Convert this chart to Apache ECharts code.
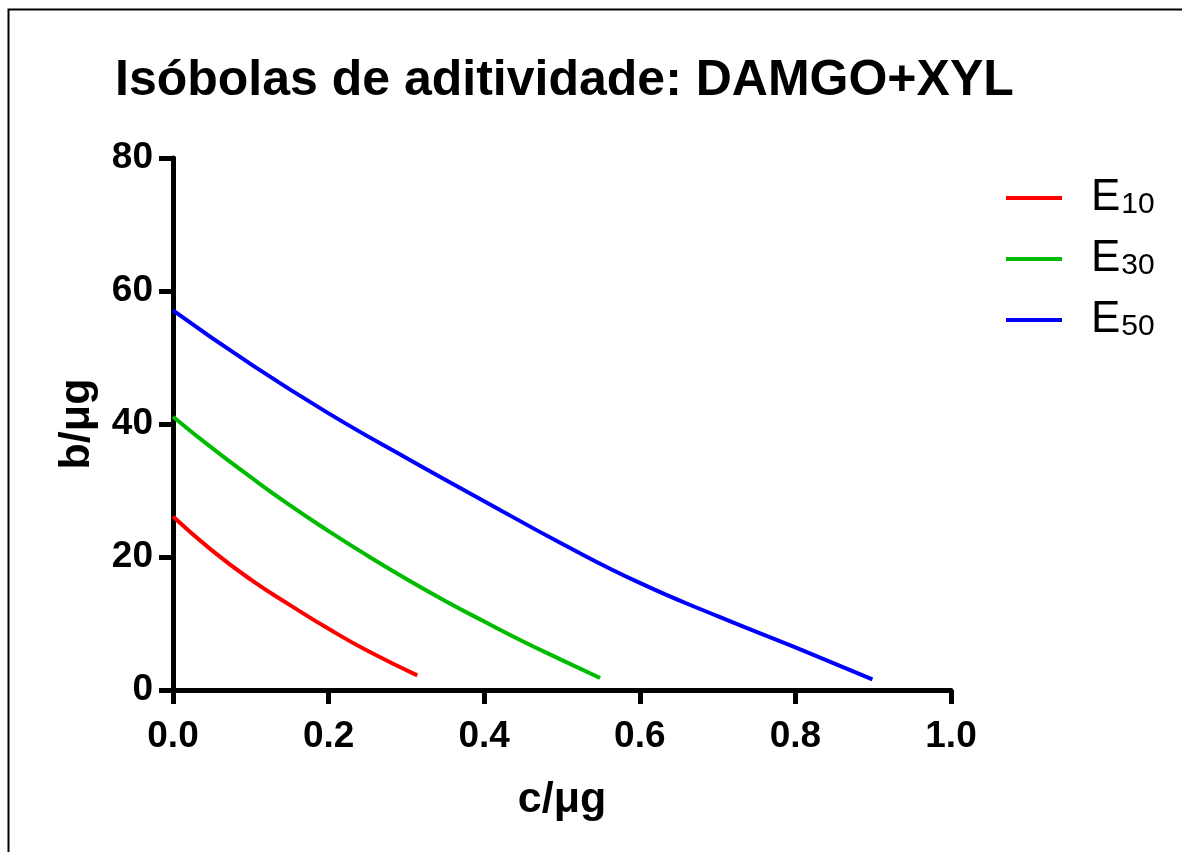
<!DOCTYPE html>
<html>
<head>
<meta charset="utf-8">
<script src="https://cdn.jsdelivr.net/npm/echarts@6/dist/echarts.min.js"></script>
<style>html,body{margin:0;padding:0;background:#fff}#c{width:1182px;height:852px}</style>
</head>
<body>
<div id="c"></div>
<script>
const titleText = 'Isóbolas de aditividade: DAMGO+XYL';
const xName = 'c/μg';
const yName = 'b/μg';
const seriesNames = ['E10', 'E30', 'E50'];
const seriesSubs = ['10', '30', '50'];
const seriesColors = ['#ff0000', '#00bb00', '#0000ff'];

const e10X = [0, 0.05, 0.10, 0.15, 0.20, 0.25, 0.314];
const e10Y = [26.1, 21.0, 16.6, 12.8, 9.2, 5.9, 2.2];
const e30X = [0, 0.05, 0.10, 0.15, 0.20, 0.25, 0.30, 0.35, 0.40, 0.45, 0.50, 0.549];
const e30Y = [41.1, 36.4, 32.0, 27.8, 23.9, 20.2, 16.7, 13.4, 10.3, 7.3, 4.5, 1.8];
const e50X = [0, 0.10, 0.20, 0.30, 0.40, 0.50, 0.60, 0.70, 0.80, 0.899];
const e50Y = [57.1, 49.0, 41.6, 34.9, 28.4, 22.0, 16.1, 11.1, 6.4, 1.6];

const xTicks = [0, 0.2, 0.4, 0.6, 0.8, 1.0];
const yTicks = [0, 20, 40, 60, 80];

const seriesX = [e10X, e30X, e50X];
const seriesY = [e10Y, e30Y, e50Y];

const FONT = '"Liberation Sans", Arial, Helvetica, sans-serif';

const chart = echarts.init(document.getElementById('c'), null, {renderer: 'canvas'});

const axisCommon = {
  axisLine: {show: true, onZero: false, lineStyle: {color: '#000', width: 5}},
  axisTick: {show: true, inside: false, length: 14, lineStyle: {color: '#000', width: 5}},
  splitLine: {show: false},
  nameLocation: 'middle',
  nameTextStyle: {fontFamily: FONT, fontWeight: 'bold', fontSize: 43, color: '#000'}
};

chart.setOption({
  backgroundColor: '#fff',
  animation: false,
  title: {
    text: titleText, left: 115, top: 56, padding: 0,
    textStyle: {fontFamily: FONT, fontWeight: 'bold', fontSize: 50, color: '#000'}
  },
  grid: {left: 173, right: 231, top: 158, bottom: 162, containLabel: false},
  xAxis: Object.assign({}, axisCommon, {
    type: 'value', min: xTicks[0], max: xTicks[xTicks.length - 1], interval: 0.2,
    name: xName, nameGap: 89,
    axisLabel: {margin: 28, fontFamily: FONT, fontWeight: 'bold', fontSize: 37, color: '#000',
      formatter: v => v.toFixed(1)}
  }),
  yAxis: Object.assign({}, axisCommon, {
    type: 'value', min: yTicks[0], max: yTicks[yTicks.length - 1], interval: 20,
    name: yName, nameGap: 74,
    axisLabel: {margin: 20, fontFamily: FONT, fontWeight: 'bold', fontSize: 37, color: '#000'}
  }),
  legend: {
    orient: 'vertical', left: 1006, top: 168, padding: 0, itemGap: 9,
    itemWidth: 56, itemHeight: 4, icon: 'rect',
    data: seriesNames,
    formatter: name => '{e|E}{s|' + seriesSubs[seriesNames.indexOf(name)] + '}',
    textStyle: {
      fontFamily: FONT, color: '#000',
      rich: {
        e: {fontFamily: FONT, fontSize: 44, lineHeight: 44, verticalAlign: 'top', padding: [0, 0, 0, 24], color: '#000'},
        s: {fontFamily: FONT, fontSize: 30, lineHeight: 30, verticalAlign: 'bottom', padding: [22, 0, 0, 1], color: '#000'}
      }
    }
  },
  graphic: [{
    type: 'polyline', silent: true,
    shape: {points: [[8.5, 900], [8.5, 9.5], [1200, 9.5]]},
    style: {stroke: '#000', lineWidth: 2, fill: null}
  }],
  series: seriesNames.map((n, i) => ({
    name: n, type: 'line', showSymbol: false, symbol: 'none', smooth: 0.5,
    color: seriesColors[i],
    lineStyle: {color: seriesColors[i], width: 4},
    data: seriesX[i].map((x, j) => [x, seriesY[i][j]])
  }))
});
</script>
</body>
</html>
